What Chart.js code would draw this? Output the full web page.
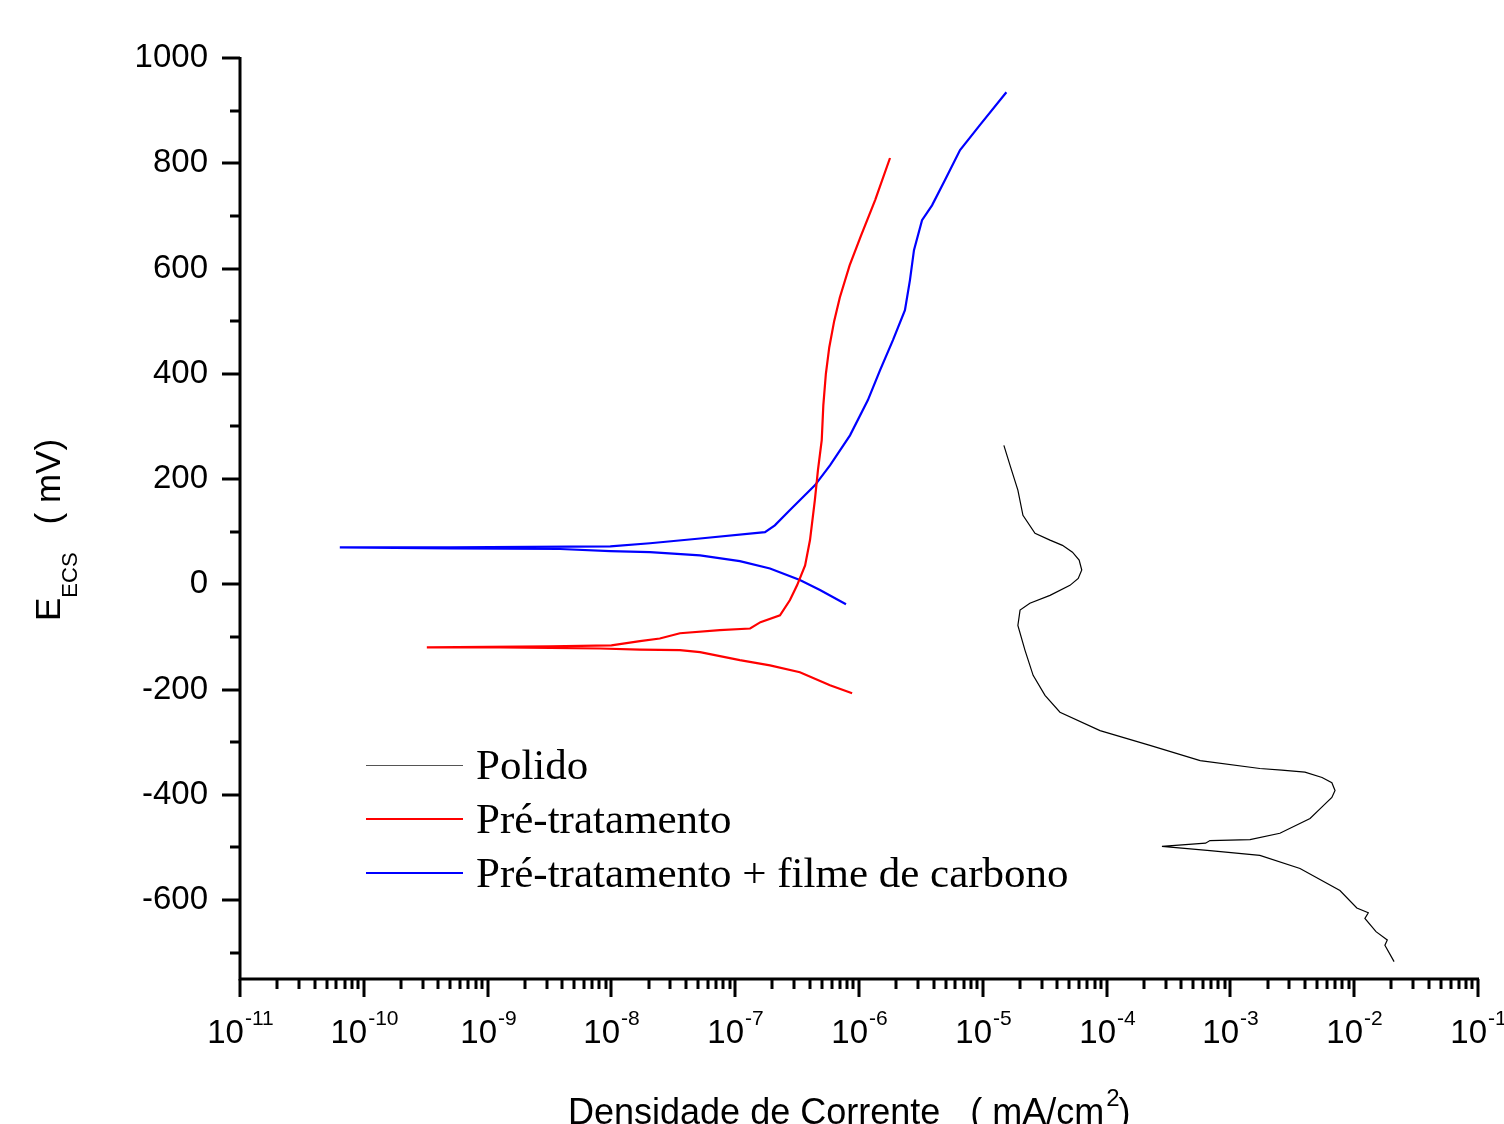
<!DOCTYPE html>
<html>
<head>
<meta charset="utf-8">
<script src="https://cdn.jsdelivr.net/npm/chart.js@4.4.0/dist/chart.umd.min.js"></script>
<style>
  html, body { margin: 0; padding: 0; background: #fff; }
  #wrap { width: 1504px; height: 1124px; }
</style>
</head>
<body>
<div id="wrap"><canvas id="curves" width="1504" height="1124"></canvas></div>
<script>
// polarization curves: current density (mA/cm2) vs potential (mV ECS)
var polidoI = [2.1e-2, 1.77e-2, 1.85e-2, 1.5e-2, 1.22e-2, 1.3e-2, 1.05e-2, 7.67e-3, 3.65e-3, 1.73e-3, 6.84e-4, 2.8e-4,
  6.3e-4, 6.84e-4, 1.44e-3, 2.51e-3, 4.4e-3, 5.5e-3, 6.6e-3, 7.0e-3, 6.6e-3, 5.5e-3, 4.0e-3, 2.6e-3, 1.73e-3,
  5.7e-4, 2.24e-4, 8.85e-5, 4.2e-5, 3.18e-5, 2.55e-5, 2.19e-5, 1.92e-5, 2.0e-5, 2.4e-5, 3.49e-5, 5.06e-5,
  5.9e-5, 6.3e-5, 6.0e-5, 5.3e-5, 4.4e-5, 3.49e-5, 2.64e-5, 2.11e-5, 1.92e-5, 1.66e-5, 1.48e-5];
var polidoE = [-717, -686, -676, -660, -635, -624, -615, -582, -540, -515, -506, -498,
  -492, -487, -485, -473, -445, -423, -405, -392, -377, -367, -357, -353, -350,
  -335, -306, -278, -243, -211, -173, -125, -78, -49, -36, -21, -2,
  11, 27, 46, 61, 74, 84, 97, 131, 179, 226, 264];

var preI = [8.8e-7, 5.83e-7, 3.33e-7, 1.91e-7, 1.09e-7, 5.2e-8, 3.58e-8, 1.7e-8, 8.1e-9, 1.26e-9, 3.23e-10,
  3.19e-9, 1.0e-8, 1.7e-8, 2.46e-8, 3.58e-8, 7.5e-8, 1.32e-7, 1.6e-7, 2.3e-7, 2.77e-7, 3.16e-7, 3.67e-7,
  4.02e-7, 4.4e-7, 4.66e-7, 5.0e-7, 5.15e-7, 5.4e-7, 5.75e-7, 6.3e-7, 7.0e-7, 8.4e-7, 1.04e-6, 1.35e-6, 1.78e-6];
var preE = [-207, -192, -167, -154, -144, -129, -125, -124, -122, -120, -120,
  -118, -116, -108, -103, -93, -87, -84, -72, -59, -30, -2, 36,
  84, 160, 217, 274, 340, 400, 450, 500, 545, 606, 663, 730, 810];

var filmeI = [7.85e-7, 4.84e-7, 3.33e-7, 1.91e-7, 1.09e-7, 5.2e-8, 2.05e-8, 9.8e-9, 3.85e-9, 5.0e-10, 6.4e-11,
  5.0e-10, 9.8e-9, 2.05e-8, 5.2e-8, 1.74e-7, 2.09e-7, 2.77e-7, 4.4e-7, 5.83e-7, 8.46e-7, 1.18e-6, 1.48e-6,
  1.88e-6, 2.35e-6, 2.58e-6, 2.78e-6, 3.23e-6, 3.89e-6, 4.95e-6, 6.55e-6, 9.5e-6, 1.55e-5];
var filmeE = [-38, -11, 8, 30, 44, 55, 61, 63, 67, 68, 70,
  70, 72, 78, 87, 99, 112, 141, 188, 226, 283, 350, 407,
  464, 521, 578, 635, 692, 720, 768, 825, 873, 935];

var seriesNames = ['Polido', 'Pré-tratamento', 'Pré-tratamento + filme de carbono'];
var seriesColors = ['#000000', '#ff0000', '#0000ff'];

var yTicks = [-700, -600, -500, -400, -300, -200, -100, 0, 100, 200, 300, 400, 500, 600, 700, 800, 900, 1000];
var yLabelStep = 200;
var xDecades = [-11, -10, -9, -8, -7, -6, -5, -4, -3, -2, -1];

function pts(xs, ys) {
  return xs.map(function(v, i) { return { x: v, y: ys[i] }; });
}

var sans = '"Liberation Sans", Arial, sans-serif';
var serif = '"Liberation Serif", "Times New Roman", serif';

var axesPlugin = {
  id: 'originAxes',
  afterDraw: function(chart) {
    var ctx = chart.ctx;
    var area = chart.chartArea;
    var xs = chart.scales.x, ys = chart.scales.y;
    ctx.save();
    ctx.strokeStyle = '#000';
    ctx.fillStyle = '#000';
    ctx.lineWidth = 3;
    ctx.lineCap = 'butt';

    // axis lines
    ctx.beginPath();
    ctx.moveTo(area.left, area.top - 1);
    ctx.lineTo(area.left, area.bottom);
    ctx.lineTo(area.right + 1, area.bottom);
    ctx.stroke();

    // y ticks and labels
    ctx.font = '33px ' + sans;
    ctx.textAlign = 'right';
    ctx.textBaseline = 'middle';
    yTicks.forEach(function(v) {
      var py = Math.round(ys.getPixelForValue(v));
      var major = v % yLabelStep === 0;
      ctx.beginPath();
      ctx.moveTo(area.left - (major ? 18 : 10), py);
      ctx.lineTo(area.left, py);
      ctx.stroke();
      if (major) ctx.fillText(String(v), area.left - 32, py);
    });

    // x ticks (decades + 2..9 minors) and labels
    xDecades.forEach(function(d, k) {
      var px = Math.round(xs.getPixelForValue(Math.pow(10, d)));
      ctx.beginPath();
      ctx.moveTo(px, area.bottom);
      ctx.lineTo(px, area.bottom + 18);
      ctx.stroke();
      if (k < xDecades.length - 1) {
        for (var m = 2; m <= 9; m++) {
          var mx = Math.round(xs.getPixelForValue(m * Math.pow(10, d)));
          ctx.beginPath();
          ctx.moveTo(mx, area.bottom);
          ctx.lineTo(mx, area.bottom + 10);
          ctx.stroke();
        }
      }
      ctx.textAlign = 'left';
      ctx.textBaseline = 'alphabetic';
      ctx.font = '33px ' + sans;
      var wBase = ctx.measureText('10').width;
      ctx.font = '21px ' + sans;
      var wSup = ctx.measureText(String(d)).width;
      var x0 = px - (wBase + wSup) / 2;
      ctx.font = '33px ' + sans;
      ctx.fillText('10', x0, 1043);
      ctx.font = '21px ' + sans;
      ctx.fillText(String(d), x0 + wBase + 1, 1025);
    });

    // x title
    ctx.font = '36px ' + sans;
    ctx.textAlign = 'left';
    ctx.textBaseline = 'alphabetic';
    var t1 = 'Densidade de Corrente   ( mA/cm';
    ctx.fillText(t1, 568, 1124);
    var w1 = ctx.measureText(t1).width;
    ctx.font = '24px ' + sans;
    ctx.fillText('2', 568 + w1 + 2, 1106);
    var w2 = ctx.measureText('2').width;
    ctx.font = '36px ' + sans;
    ctx.fillText(')', 568 + w1 + w2 + 1, 1124);

    // y title (rotated)
    ctx.save();
    ctx.translate(60, 621);
    ctx.rotate(-Math.PI / 2);
    ctx.font = '35px ' + sans;
    ctx.fillText('E', 0, 0);
    var we = ctx.measureText('E').width;
    ctx.font = '22px ' + sans;
    ctx.fillText('ECS', we, 17);
    var ws = ctx.measureText('ECS').width;
    ctx.font = '35px ' + sans;
    ctx.fillText('( mV)', we + ws + 28, 0);
    ctx.restore();

    // legend
    ctx.font = '43px ' + serif;
    ctx.textBaseline = 'alphabetic';
    seriesNames.forEach(function(name, i) {
      var ly = 765 + i * 54;
      ctx.strokeStyle = i === 0 ? '#555' : seriesColors[i];
      ctx.lineWidth = i === 0 ? 1 : 2;
      ctx.beginPath();
      ctx.moveTo(366, ly + (i === 0 ? 0.5 : 0));
      ctx.lineTo(463, ly + (i === 0 ? 0.5 : 0));
      ctx.stroke();
      ctx.fillText(name, 476, ly + 14);
    });
    ctx.restore();
  }
};

new Chart(document.getElementById('curves'), {
  type: 'scatter',
  data: {
    datasets: [
      { label: seriesNames[0], data: pts(polidoI, polidoE), borderColor: seriesColors[0], borderWidth: 1.2 },
      { label: seriesNames[1], data: pts(preI, preE), borderColor: seriesColors[1], borderWidth: 2.2 },
      { label: seriesNames[2], data: pts(filmeI, filmeE), borderColor: seriesColors[2], borderWidth: 2.2 }
    ].map(function(ds) {
      ds.showLine = true;
      ds.pointRadius = 0;
      ds.tension = 0;
      ds.fill = false;
      return ds;
    })
  },
  options: {
    responsive: false,
    animation: false,
    layout: { padding: { left: 240, right: 26, top: 58, bottom: 145 } },
    plugins: { legend: { display: false }, tooltip: { enabled: false } },
    scales: {
      x: { type: 'logarithmic', min: 1e-11, max: 1e-1, display: false },
      y: { type: 'linear', min: -750, max: 1000, display: false }
    }
  },
  plugins: [axesPlugin]
});
</script>
</body>
</html>
